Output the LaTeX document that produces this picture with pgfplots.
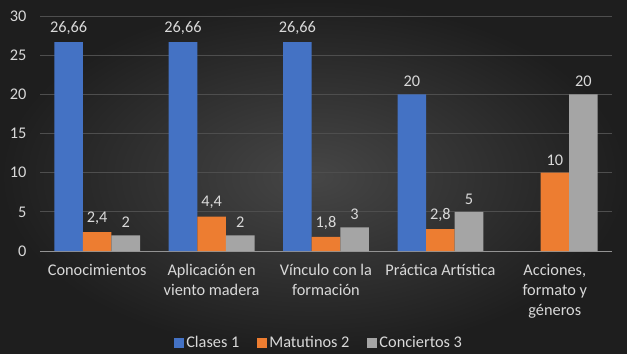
\documentclass[border=0pt]{standalone}
\usepackage{pgfplots}
\pgfplotsset{compat=1.18}
\usepackage{fontspec}
\setmainfont{Carlito}
\definecolor{cblue}{HTML}{4472C4}
\definecolor{corange}{HTML}{ED7D31}
\definecolor{cgray}{HTML}{A5A5A5}
\definecolor{txt}{HTML}{D9D9D9}
\definecolor{gridc}{HTML}{4E4E4E}
\definecolor{bgin}{HTML}{464646}
\definecolor{bgout}{HTML}{1E1E1E}
\begin{document}
\begin{tikzpicture}
\shade[inner color=bgin, outer color=bgout] (-40bp,-102bp) rectangle (587bp,251bp);
\begin{axis}[
  scale only axis, width=572bp, height=235bp,
  xmin=-0.5, xmax=4.5, ymin=0, ymax=30,
  ytick={0,5,...,30},
  xtick={0,1,2,3,4},
  xticklabels={Conocimientos,{Aplicación en\\viento madera},{Vínculo con la\\formación},{Práctica Artística},{Acciones,\\formato y\\géneros}},
  xticklabel style={align=center, yshift=-10bp, font=\fontsize{16.3bp}{20bp}\selectfont, text=txt},
  yticklabel style={font=\fontsize{16.3bp}{18bp}\selectfont, text=txt, xshift=-10bp},
  /pgf/number format/assume math mode=true,
  /pgf/number format/use comma,
  /pgf/number format/1000 sep={},
  major tick length=0pt,
  axis x line=bottom, axis y line=left,
  x axis line style={draw=gray!85, line width=1pt, -},
  y axis line style={draw=none},
  ymajorgrids, grid style={gridc, line width=0.8pt},
  ybar=0pt, bar width=28.6bp,
  nodes near coords,
  every node near coord/.append style={font=\fontsize{16.3bp}{18bp}\selectfont, text=txt, yshift=4bp},
  legend columns=3,
  legend style={at={(0.488,-0.39)}, anchor=center, draw=none, fill=none, text=txt, font=\fontsize{16.3bp}{18bp}\selectfont, /tikz/every even column/.append style={column sep=16bp}},
  legend image code/.code={\fill[#1] (0bp,-5bp) rectangle (10bp,5bp);},
]
\addplot[fill=cblue, draw=none] coordinates {(0,26.66) (1,26.66) (2,26.66) (3,20)};
\addplot[fill=corange, draw=none] coordinates {(0,2.4) (1,4.4) (2,1.8) (3,2.8) (4,10)};
\addplot[fill=cgray, draw=none] coordinates {(0,2) (1,2) (2,3) (3,5) (4,20)};
\legend{Clases 1, Matutinos 2, Conciertos 3}
\end{axis}
\end{tikzpicture}
\end{document}
